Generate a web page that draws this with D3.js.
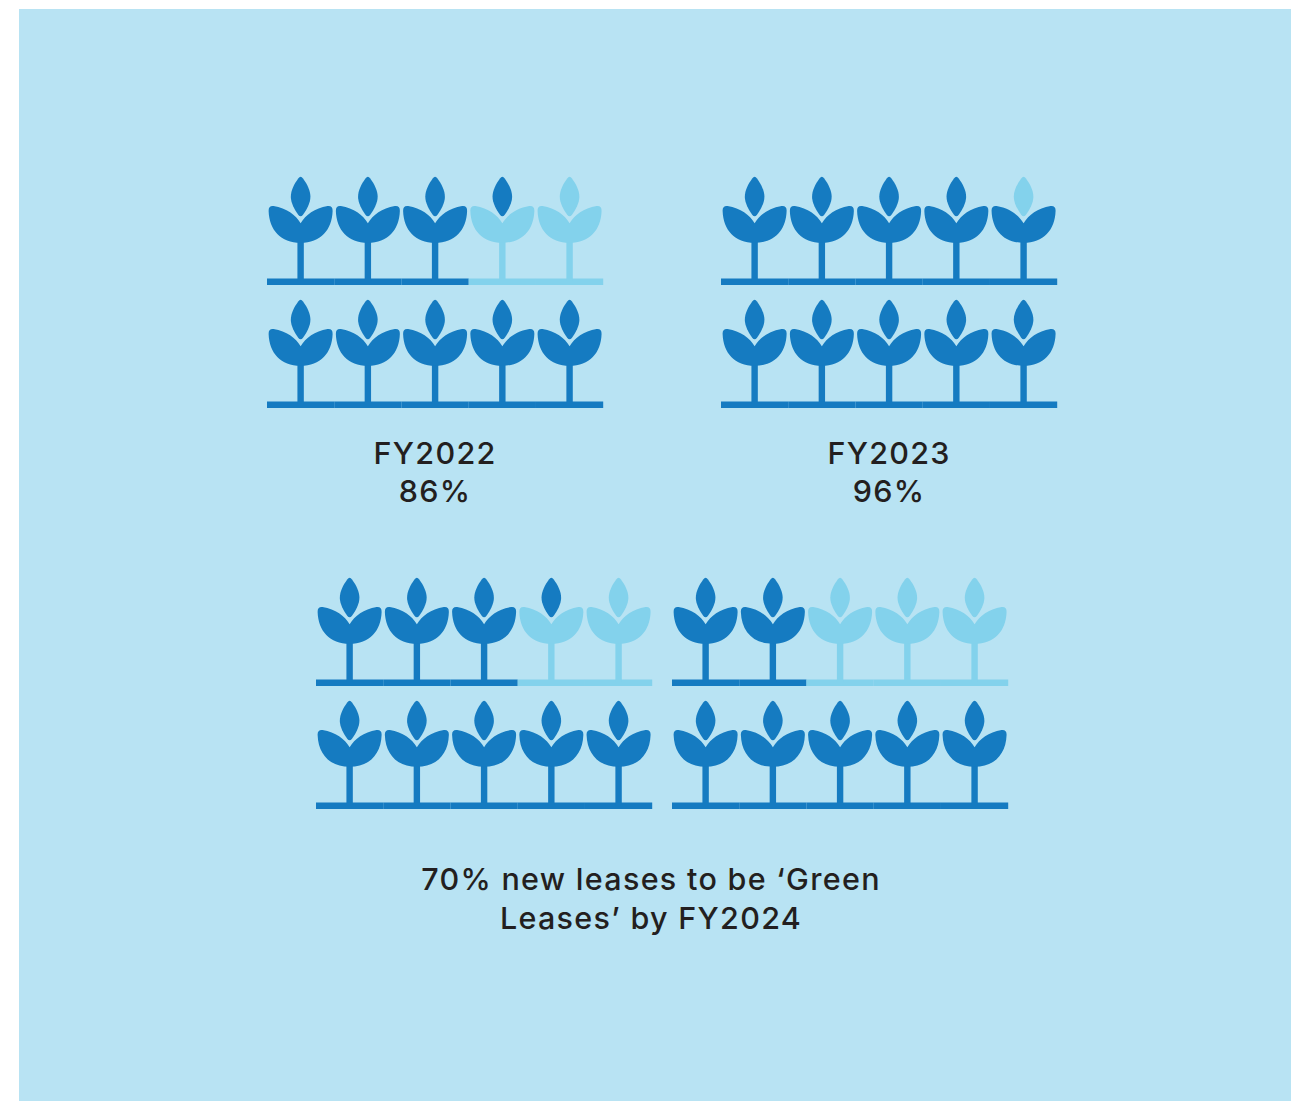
<!DOCTYPE html>
<html>
<head>
<meta charset="utf-8">
<script src="https://cdn.jsdelivr.net/npm/d3@7"></script>
<style>
  html, body { margin: 0; padding: 0; background: #fff; }
  svg { display: block; }
  text { font-family: Inter, sans-serif; font-weight: 550; font-size: 30.5px; letter-spacing: 1.3px; fill: #231f20; text-anchor: middle; }
</style>
</head>
<body>
<svg width="1291" height="1101"></svg>
<script>
// how many of the 10 plants are dark, per block (the bud is counted on its own)
const blocks = ['FY2022', 'FY2023', 'FY2024a', 'FY2024b'];
const leaf_counts = [8, 10, 8, 7];
const bud_counts = [9, 9, 9, 7];
const labels = [['FY2022', '86%'], ['FY2023', '96%']];
const caption = ['70% new leases to be \u2018Green', 'Leases\u2019 by FY2024'];
const rows = [0, 1];
const columns = [0, 1, 2, 3, 4];

const dark = '#157bc1';
const light = '#83d2ec';
const background = '#b8e3f3';

// layout
const block_left = d3.scaleOrdinal().domain(blocks).range([267, 721, 316, 672]);
const block_top = d3.scaleOrdinal().domain(blocks).range([285, 285, 686, 686]);
const block_width = 336.2;
const row_step = 123;

const leaves_path = 'M0,-61.8 C-5,-70 -14,-77 -27,-79 Q-32.2,-79.6 -32,-74 C-31.4,-55 -20,-42.2 0,-42.2'
  + ' C20,-42.2 31.4,-55 32,-74 Q32.2,-79.6 27,-79 C14,-77 5,-70 0,-61.8 Z';
const bud_path = 'M-2.4,-106.6 Q0,-109.8 2.4,-106.6 C6.5,-101 9.8,-94.5 9.8,-88.3 C9.8,-82 6,-75.5 2.4,-70.3'
  + ' Q0,-67 -2.4,-70.3 C-6,-75.5 -9.8,-82 -9.8,-88.3 C-9.8,-94.5 -6.5,-101 -2.4,-106.6 Z';

const svg = d3.select('svg');

svg.append('rect')
  .attr('x', 19)
  .attr('y', 9)
  .attr('width', 1272)
  .attr('height', 1092)
  .attr('fill', background);

blocks.forEach((block, b) => {
  const x = d3.scaleBand()
    .domain(columns)
    .range([block_left(block), block_left(block) + block_width]);
  const y = d3.scaleLinear()
    .domain([0, 1])
    .range([block_top(block), block_top(block) + row_step]);

  // plants are numbered from the bottom row upwards
  const plants = [];
  rows.forEach(row => {
    columns.forEach(col => {
      plants.push({row, col, index: (1 - row) * 5 + col});
    });
  });

  const body_color = d => d.index < leaf_counts[b] ? dark : light;
  const bud_color = d => d.index < bud_counts[b] ? dark : light;

  const sel = svg.append('g')
    .attr('class', 'block')
    .selectAll('.plant')
    .data(plants)
    .enter()
    .append('g')
    .classed('plant', true);

  sel.append('rect')
    .attr('x', d => x(d.col))
    .attr('y', d => y(d.row) - 6.5)
    .attr('width', x.bandwidth())
    .attr('height', 6.5)
    .attr('fill', body_color);

  sel.append('rect')
    .attr('x', d => x(d.col) + x.bandwidth() / 2 - 3.2)
    .attr('y', d => y(d.row) - 44)
    .attr('width', 6.4)
    .attr('height', 40)
    .attr('fill', body_color);

  sel.append('path')
    .attr('transform', d => `translate(${x(d.col) + x.bandwidth() / 2},${y(d.row)})`)
    .attr('d', leaves_path)
    .attr('fill', body_color);

  sel.append('path')
    .attr('transform', d => `translate(${x(d.col) + x.bandwidth() / 2},${y(d.row)})`)
    .attr('d', bud_path)
    .attr('fill', bud_color);

  // label only on the first two blocks, the last two share the caption
  if (labels[b]) {
    const cx = block_left(block) + block_width / 2;
    labels[b].forEach((line, i) => {
      svg.append('text')
        .attr('x', cx)
        .attr('y', 463.5 + i * 38.5)
        .text(line);
    });
  }
});

caption.forEach((line, i) => {
  svg.append('text')
    .attr('x', 651)
    .attr('y', 890 + i * 39)
    .text(line);
});
</script>
</body>
</html>
